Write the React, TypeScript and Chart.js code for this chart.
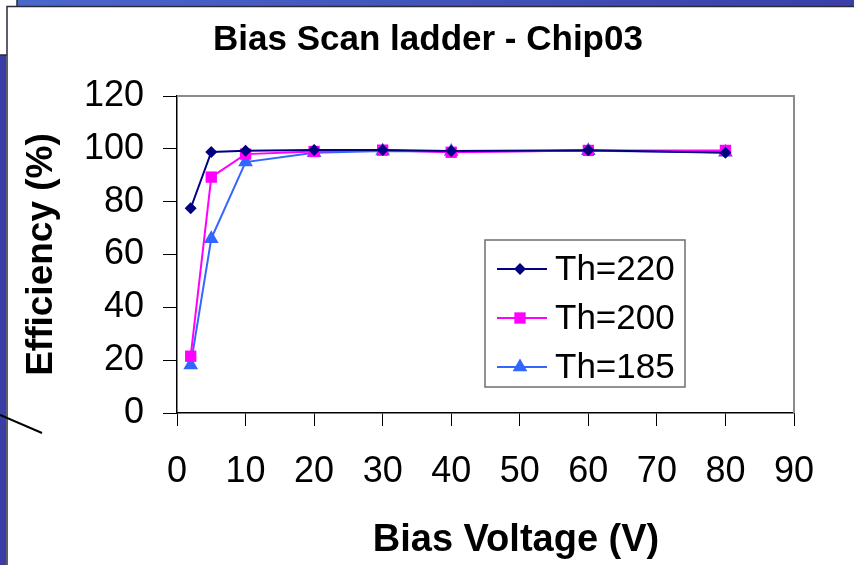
import React, { useEffect, useRef } from "react";
import { Chart, registerables } from "chart.js";

Chart.register(...registerables);

// ---- Data ----
const biasVoltage = [2, 5, 10, 20, 30, 40, 60, 80];
const th220 = [77.5, 98.8, 99.3, 99.6, 99.6, 99.2, 99.5, 98.5];
const th200 = [21.5, 89.3, 98.0, 99.0, 99.5, 98.7, 99.4, 99.4];
const th185 = [18.2, 66.0, 95.0, 98.5, 99.2, 99.0, 99.3, 98.7];
const seriesLabels = ["Th=220", "Th=200", "Th=185"];
const xMin = 0;
const xMax = 90;
const xStep = 10;
const yMin = 0;
const yMax = 120;
const yStep = 20;
const chartTitle = "Bias Scan ladder - Chip03";
const xTitle = "Bias Voltage (V)";
const yTitle = "Efficiency (%)";

const FONT = "'Liberation Sans', Arial, sans-serif";
const colors = ["#000080", "#FF00FF", "#3366FF"];
const styles = ["rectRot", "rect", "triangle"];
const radii = [6, 8, 8.5];

function drawMarker(ctx: CanvasRenderingContext2D, style: string, x: number, y: number, r: number, color: string) {
  ctx.save();
  ctx.fillStyle = color;
  ctx.beginPath();
  if (style === "rectRot") {
    ctx.moveTo(x, y - r);
    ctx.lineTo(x + r, y);
    ctx.lineTo(x, y + r);
    ctx.lineTo(x - r, y);
  } else if (style === "rect") {
    const s = r * Math.SQRT1_2;
    ctx.rect(x - s, y - s, 2 * s, 2 * s);
  } else {
    ctx.moveTo(x, y - r);
    ctx.lineTo(x + r * 0.866, y + r * 0.5);
    ctx.lineTo(x - r * 0.866, y + r * 0.5);
  }
  ctx.closePath();
  ctx.fill();
  ctx.restore();
}

const decorPlugin = {
  id: "decor",
  beforeDraw(chart: any) {
    const ctx = chart.ctx as CanvasRenderingContext2D;
    ctx.save();
    ctx.fillStyle = "#ffffff";
    ctx.fillRect(0, 0, chart.width, chart.height);
    // top blue strip
    const g = ctx.createLinearGradient(17, 0, 854, 0);
    g.addColorStop(0, "#4A68CC");
    g.addColorStop(1, "#3A3FA8");
    ctx.fillStyle = g;
    ctx.fillRect(17, 0, chart.width - 17, 6);
    // left blue strip
    ctx.fillStyle = "#3A3EA4";
    ctx.fillRect(0, 55, 6, chart.height - 55);
    // dark frame lines
    ctx.strokeStyle = "#2a2a3a";
    ctx.lineWidth = 1.5;
    ctx.beginPath();
    ctx.moveTo(7, chart.height);
    ctx.lineTo(7, 6.5);
    ctx.lineTo(chart.width, 6.5);
    ctx.moveTo(0, 55);
    ctx.lineTo(7, 55);
    ctx.moveTo(17, 0);
    ctx.lineTo(17, 6);
    ctx.stroke();
    // diagonal pointer line
    ctx.strokeStyle = "#000000";
    ctx.lineWidth = 2;
    ctx.beginPath();
    ctx.moveTo(0, 415);
    ctx.lineTo(42, 433);
    ctx.stroke();
    ctx.restore();
  },
  beforeDatasetsDraw(chart: any) {
    const ctx = chart.ctx as CanvasRenderingContext2D;
    const a = chart.chartArea;
    ctx.save();
    ctx.strokeStyle = "#8c8c8c";
    ctx.lineWidth = 2;
    ctx.beginPath();
    ctx.moveTo(a.left, a.top);
    ctx.lineTo(a.right, a.top);
    ctx.lineTo(a.right, a.bottom);
    ctx.stroke();
    ctx.restore();
  },
  afterDraw(chart: any) {
    const ctx = chart.ctx as CanvasRenderingContext2D;
    ctx.save();
    // chart title
    ctx.fillStyle = "#000000";
    ctx.textAlign = "center";
    ctx.textBaseline = "alphabetic";
    ctx.font = `bold 35px ${FONT}`;
    ctx.fillText(chartTitle, 428, 50);
    // x axis title
    ctx.font = `bold 38px ${FONT}`;
    ctx.fillText(xTitle, 516, 551);
    // legend
    const bx = 485, by = 240, bw = 200, bh = 147;
    ctx.fillStyle = "#ffffff";
    ctx.fillRect(bx, by, bw, bh);
    ctx.strokeStyle = "#6e6e6e";
    ctx.lineWidth = 1.5;
    ctx.strokeRect(bx, by, bw, bh);
    const rows = [269, 318, 367];
    chart.data.datasets.forEach((ds: any, i: number) => {
      const y = rows[i];
      ctx.strokeStyle = ds.borderColor;
      ctx.lineWidth = 2;
      ctx.beginPath();
      ctx.moveTo(497, y);
      ctx.lineTo(547, y);
      ctx.stroke();
      drawMarker(ctx, styles[i], 520, y, radii[i], colors[i]);
      ctx.fillStyle = "#000000";
      ctx.textAlign = "left";
      ctx.textBaseline = "alphabetic";
      ctx.font = `35px ${FONT}`;
      ctx.fillText(ds.label, 555, y + 11);
    });
    ctx.restore();
  },
};

export default function App() {
  const ref = useRef<HTMLCanvasElement | null>(null);
  useEffect(() => {
    if (!ref.current) return;
    const series = [th220, th200, th185];
    const chart = new Chart(ref.current, {
      type: "scatter",
      data: {
        datasets: series.map((vals, i) => ({
          label: seriesLabels[i],
          data: biasVoltage.map((x, j) => ({ x, y: vals[j] })),
          showLine: true,
          borderColor: colors[i],
          backgroundColor: colors[i],
          borderWidth: 2,
          pointStyle: styles[i] as any,
          pointRadius: radii[i],
          pointBorderWidth: 0,
          tension: 0,
        })),
      },
      options: {
        animation: false,
        responsive: false,
        layout: { padding: { left: 20, right: 60, top: 96, bottom: 0 } },
        plugins: {
          legend: { display: false },
          title: { display: false },
          tooltip: { enabled: false },
        },
        scales: {
          x: {
            type: "linear",
            min: xMin,
            max: xMax,
            ticks: {
              stepSize: xStep,
              color: "#000",
              font: { family: FONT, size: 36 },
              padding: 24,
              maxRotation: 0,
            },
            grid: { drawOnChartArea: false, color: "#000", tickLength: 13, tickWidth: 1 },
            border: { color: "#000", width: 1.5 },
            afterFit: (s: any) => { s.height = 152; },
          },
          y: {
            min: yMin,
            max: yMax,
            ticks: {
              stepSize: yStep,
              color: "#000",
              font: { family: FONT, size: 36 },
              padding: 19,
            },
            grid: { drawOnChartArea: false, color: "#000", tickLength: 14, tickWidth: 1 },
            border: { color: "#000", width: 1.5 },
            title: {
              display: true,
              text: yTitle,
              color: "#000",
              font: { family: FONT, size: 37, weight: "bold" },
              padding: 0,
            },
            afterFit: (s: any) => { s.width = 157; },
          },
        },
      },
      plugins: [decorPlugin],
    });
    return () => chart.destroy();
  }, []);
  return (
    <div style={{ position: "fixed", left: 0, top: 0, width: 854, height: 565 }}>
      <canvas ref={ref} width={854} height={565} style={{ display: "block" }} />
    </div>
  );
}
